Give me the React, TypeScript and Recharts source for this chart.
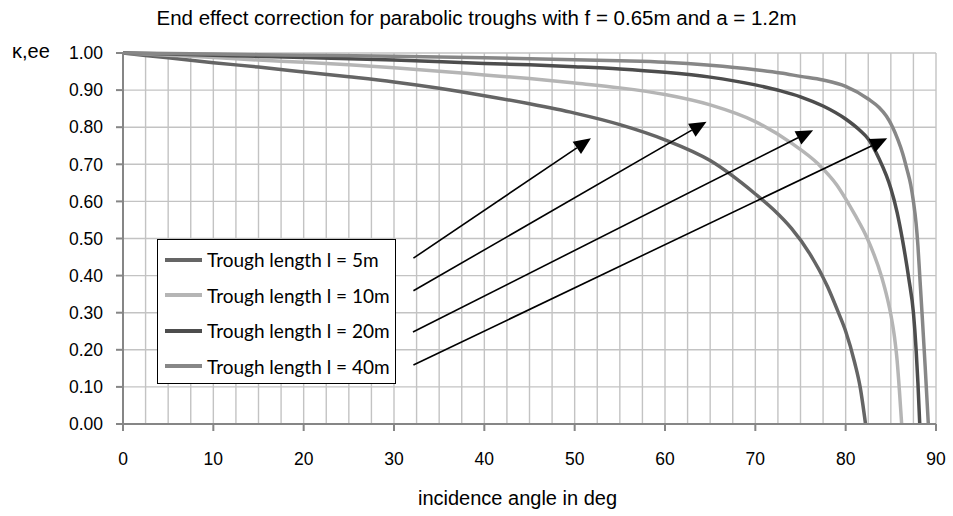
import React from 'react';
import { LineChart, Line, XAxis, YAxis, CartesianGrid, Legend, ReferenceLine } from 'recharts';

// incidence angle (deg) and end-effect factor for each trough length
const angle5 = [0, 5, 10, 15, 20, 25, 30, 35, 40, 45, 50, 55, 60, 65, 70, 72, 74, 76, 78, 79.2, 80, 81, 81.6, 82.2];
const kappa5 = [1.0, 0.987, 0.974, 0.962, 0.949, 0.936, 0.922, 0.905, 0.885, 0.863, 0.838, 0.807, 0.766, 0.71, 0.62, 0.578, 0.527, 0.46, 0.37, 0.3, 0.25, 0.165, 0.1, 0.0];

const angle10 = [0, 5, 10, 15, 20, 25, 30, 35, 40, 45, 50, 55, 60, 65, 70, 74, 77, 79, 80, 81, 82.4, 84, 84.6, 85, 85.4, 85.7, 85.95, 86.2];
const kappa10 = [1.0, 0.994, 0.988, 0.981, 0.975, 0.968, 0.96, 0.951, 0.941, 0.931, 0.919, 0.906, 0.888, 0.86, 0.815, 0.757, 0.7, 0.645, 0.607, 0.565, 0.5, 0.395, 0.34, 0.295, 0.235, 0.17, 0.09, 0.0];

const angle20 = [0, 10, 20, 30, 40, 45, 50, 55, 60, 65, 70, 72.8, 75, 77.5, 80, 81.5, 82.5, 83.7, 84.5, 85, 85.7, 86.3, 87, 87.5, 87.8, 88, 88.2];
const kappa20 = [1.0, 0.994, 0.988, 0.981, 0.972, 0.968, 0.963, 0.957, 0.948, 0.935, 0.914, 0.898, 0.882, 0.857, 0.822, 0.793, 0.768, 0.715, 0.67, 0.635, 0.57, 0.495, 0.39, 0.3, 0.2, 0.11, 0.0];

const angle40 = [0, 10, 20, 30, 40, 50, 55, 60, 65, 70, 72.8, 75, 77.5, 80, 82.5, 83.7, 84.5, 85.2, 85.8, 86.3, 86.8, 87.2, 87.5, 87.8, 88, 88.2, 88.5, 88.8, 89.15];
const kappa40 = [1.0, 0.997, 0.994, 0.991, 0.987, 0.982, 0.979, 0.975, 0.967, 0.955, 0.946, 0.937, 0.927, 0.91, 0.876, 0.853, 0.83, 0.8, 0.765, 0.73, 0.685, 0.645, 0.6, 0.54, 0.48, 0.4, 0.28, 0.155, 0.0];

const seriesNames = ['Trough length l = 5m', 'Trough length l = 10m', 'Trough length l = 20m', 'Trough length l = 40m'];

const xTicks = Array.from({ length: 37 }, (_, i) => i * 2.5);
const yTicks = [0, 0.1, 0.2, 0.3, 0.4, 0.5, 0.6, 0.7, 0.8, 0.9, 1.0];

// arrows from the legend towards each curve
const arrowStartX = [32.15, 32.15, 32.1, 32.15];
const arrowStartY = [0.447, 0.359, 0.248, 0.159];
const arrowEndX = [51.8, 64.6, 76.4, 84.6];
const arrowEndY = [0.77, 0.815, 0.792, 0.77];

const toRows = (xs: number[], ys: number[]) => xs.map((a, i) => ({ angle: a, k: ys[i] }));

const series = [
  { name: seriesNames[0], data: toRows(angle5, kappa5), color: '#656565' },
  { name: seriesNames[1], data: toRows(angle10, kappa10), color: '#b5b5b5' },
  { name: seriesNames[2], data: toRows(angle20, kappa20), color: '#4d4d4d' },
  { name: seriesNames[3], data: toRows(angle40, kappa40), color: '#878787' },
];

const arial = '"Liberation Sans", Arial, sans-serif';
const axisColor = '#868686';

const AngleTick = (props: any) => {
  const { x, y, payload } = props;
  if (payload.value % 10 !== 0) return <g />;
  return (
    <g>
      <line x1={x} y1={y} x2={x} y2={y + 7} stroke={axisColor} strokeWidth={2} />
      <text x={x} y={y + 41} textAnchor="middle" fontSize={17.5} fill="#000" fontFamily={arial}>
        {payload.value}
      </text>
    </g>
  );
};

const Arrow = (props: any) => {
  const { x1, y1, x2, y2 } = props;
  const ang = Math.atan2(y2 - y1, x2 - x1);
  const len = 17;
  const half = 7.5;
  const c = Math.cos(ang);
  const s = Math.sin(ang);
  const bx = x2 - len * c;
  const by = y2 - len * s;
  const pts = `${x2},${y2} ${bx - half * s},${by + half * c} ${bx + half * s},${by - half * c}`;
  return (
    <g>
      <line x1={x1} y1={y1} x2={bx} y2={by} stroke="#000" strokeWidth={1.6} />
      <polygon points={pts} fill="#000" />
    </g>
  );
};

// legend box keeps the series order (recharts would sort it by name)
const renderLegend = () => (
  <div
    style={{
      width: 239,
      height: 145,
      border: '1.5px solid #000',
      background: '#fff',
      boxSizing: 'border-box',
      position: 'relative',
    }}
  >
    {series.map((s, i) => (
      <div
        key={s.name}
        style={{
          position: 'absolute',
          left: 7,
          top: 7.5 + i * 35.6,
          height: 24,
          display: 'flex',
          alignItems: 'center',
          whiteSpace: 'nowrap',
        }}
      >
        <svg width={37} height={6}>
          <line x1={0} y1={3} x2={37} y2={3} stroke={s.color} strokeWidth={4} />
        </svg>
        <span style={{ marginLeft: 5, fontFamily: 'Lato', fontSize: 19, color: '#000' }}>{s.name}</span>
      </div>
    ))}
  </div>
);

export default function App() {
  return (
    <div style={{ position: 'absolute', left: 0, top: 0, width: 953, height: 516, background: '#fff' }}>
      <div
        style={{
          position: 'absolute',
          left: 0,
          top: 8,
          width: 953,
          textAlign: 'center',
          fontFamily: arial,
          fontSize: 20.5,
          lineHeight: '20px',
          color: '#000',
        }}
      >
        End effect correction for parabolic troughs with f = 0.65m and a = 1.2m
      </div>
      <LineChart width={953} height={516} margin={{ top: 53, right: 17, bottom: 0, left: 0 }}>
        <CartesianGrid stroke="#c3c3c3" strokeWidth={1.4} />
        <XAxis
          type="number"
          dataKey="angle"
          domain={[0, 90]}
          ticks={xTicks}
          interval={0}
          height={92}
          tickSize={0}
          tickMargin={0}
          tickLine={false}
          tick={<AngleTick />}
          stroke={axisColor}
          strokeWidth={2}
          allowDuplicatedCategory={false}
          label={{
            content: (p: any) => (
              <text
                x={p.viewBox.x + p.viewBox.width / 2 - 12}
                y={505}
                textAnchor="middle"
                fontSize={20}
                fontFamily={arial}
                fill="#000"
              >
                incidence angle in deg
              </text>
            ),
          }}
        />
        <YAxis
          type="number"
          domain={[0, 1]}
          ticks={yTicks}
          interval={0}
          width={123}
          tickSize={7}
          tickMargin={13}
          tickFormatter={(v: number) => v.toFixed(2)}
          tick={{ fontSize: 17.5, fill: '#000', fontFamily: arial }}
          stroke={axisColor}
          strokeWidth={2}
          label={{
            content: (p: any) => (
              <text x={12} y={p.viewBox.y + 5} fontSize={20} fontFamily={arial} fill="#000">
                κ,ee
              </text>
            ),
          }}
        />
        <Legend
          layout="vertical"
          align="center"
          verticalAlign="middle"
          content={renderLegend}
          wrapperStyle={{ left: 157, top: 239, width: 239, height: 145 }}
        />
        {series.map((s) => (
          <Line
            key={s.name}
            data={s.data}
            dataKey="k"
            name={s.name}
            type="monotone"
            stroke={s.color}
            strokeWidth={3.5}
            dot={false}
            activeDot={false}
            isAnimationActive={false}
          />
        ))}
        {arrowStartX.map((x0, i) => (
          <ReferenceLine
            key={i}
            segment={[
              { x: x0, y: arrowStartY[i] },
              { x: arrowEndX[i], y: arrowEndY[i] },
            ]}
            shape={<Arrow />}
          />
        ))}
      </LineChart>
    </div>
  );
}
